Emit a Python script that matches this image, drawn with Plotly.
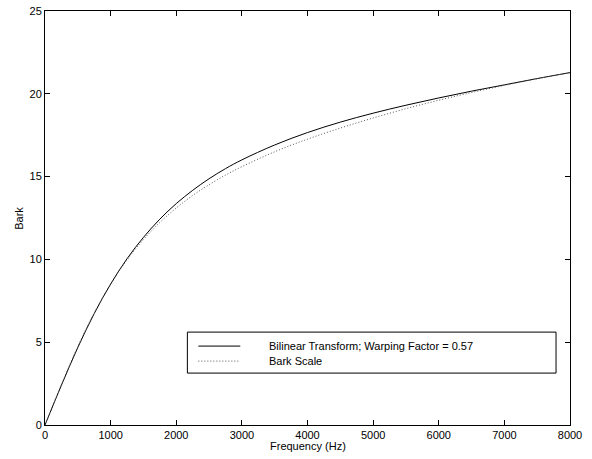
import plotly.graph_objects as go

# Frequencies (Hz)
freq = [0, 250, 500, 750, 1000, 1250, 1500, 1750, 2000, 2250, 2500, 2750, 3000,
        3500, 4000, 4500, 5000, 5500, 6000, 6500, 7000, 7500, 8000]

# Bilinear transform (warping factor 0.57), in Bark
bilinear = [0.00, 2.40, 4.68, 6.73, 8.51, 10.04, 11.33, 12.43, 13.37, 14.17, 14.87, 15.48, 16.01,
            16.91, 17.66, 18.29, 18.83, 19.31, 19.75, 20.16, 20.54, 20.92, 21.28]

# Bark scale
bark = [0.00, 2.44, 4.74, 6.77, 8.51, 9.97, 11.20, 12.23, 13.10, 13.86, 14.51, 15.09, 15.60,
        16.50, 17.26, 17.93, 18.54, 19.10, 19.61, 20.08, 20.51, 20.91, 21.28]

legend_labels = ["Bilinear Transform; Warping Factor = 0.57", "Bark Scale"]

x_ticks = [0, 1000, 2000, 3000, 4000, 5000, 6000, 7000, 8000]
y_ticks = [0, 5, 10, 15, 20, 25]

FONT = "Liberation Sans, Arial, Helvetica, sans-serif"
DOT = "1px,2px"

fig = go.Figure()
fig.add_trace(go.Scatter(x=freq, y=bilinear, mode="lines", name=legend_labels[0],
                         line=dict(color="black", width=1, shape="spline"), showlegend=False))
fig.add_trace(go.Scatter(x=freq, y=bark, mode="lines", name=legend_labels[1],
                         line=dict(color="#555555", width=1, dash=DOT, shape="spline"), showlegend=False))

# Manual MATLAB-style legend box
fig.add_shape(type="rect", xref="paper", yref="paper", x0=0.2712, x1=0.9734, y0=0.1254, y1=0.2244,
              line=dict(color="black", width=1), fillcolor="white", layer="above")
fig.add_shape(type="line", xref="paper", yref="paper", x0=0.2921, x1=0.3720, y0=0.1906, y1=0.1906,
              line=dict(color="black", width=1), layer="above")
fig.add_shape(type="line", xref="paper", yref="paper", x0=0.2921, x1=0.3720, y0=0.1544, y1=0.1544,
              line=dict(color="#555555", width=1, dash=DOT), layer="above")
for lbl, yy in zip(legend_labels, [0.1906, 0.1544]):
    fig.add_annotation(xref="paper", yref="paper", x=0.4234, y=yy, text=lbl, showarrow=False,
                       xanchor="left", yanchor="middle", font=dict(family=FONT, size=11, color="black"))

# Axis titles
fig.add_annotation(xref="paper", yref="paper", x=0.5, y=-0.05, text="Frequency (Hz)", showarrow=False,
                   xanchor="center", yanchor="middle", font=dict(family=FONT, size=11, color="black"))
fig.add_annotation(xref="paper", yref="paper", x=-0.05, y=0.5, text="Bark", showarrow=False, textangle=-90,
                   xanchor="center", yanchor="middle", font=dict(family=FONT, size=11, color="black"))

axis_common = dict(showgrid=False, zeroline=False, showline=True, linecolor="black", linewidth=1,
                   mirror="ticks", ticks="inside", ticklen=5, tickcolor="black", tickwidth=1,
                   automargin=False,
                   tickfont=dict(family=FONT, size=11, color="black"))

fig.update_xaxes(range=[0, 8000], tickvals=x_ticks, ticktext=[str(v) for v in x_ticks], **axis_common)
fig.update_yaxes(range=[0, 25], tickvals=y_ticks, ticktext=[str(v) for v in y_ticks], **axis_common)

fig.update_layout(width=592, height=459, autosize=False,
                  margin=dict(l=44.5, r=22, t=10.5, b=34, pad=0),
                  plot_bgcolor="white", paper_bgcolor="white",
                  font=dict(family=FONT, size=11, color="black"))

# Remove the default 8px page margin so the figure fills the window exactly
fig.write_html("out.html", config={"displayModeBar": False},
               post_script="document.body.style.margin='0';document.body.style.overflow='hidden';")
